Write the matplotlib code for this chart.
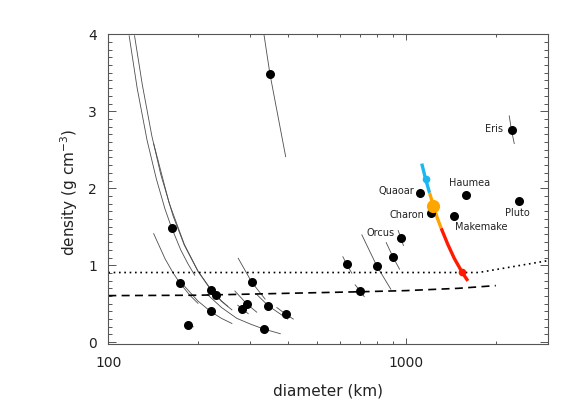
import matplotlib
matplotlib.use("Agg")
import matplotlib.pyplot as plt
from matplotlib.ticker import LogLocator, MultipleLocator, NullFormatter, FuncFormatter

# --- objects (diameter km, density g/cm3) ---
obj_diam = [163, 174, 185, 221, 230, 221, 282, 292, 303, 332, 344, 394, 349,
            632, 701, 797, 902, 960, 1114, 1213, 1446, 1587, 2383, 2258]
obj_rho = [1.48, 0.77, 0.225, 0.68, 0.615, 0.40, 0.43, 0.495, 0.78, 0.175, 0.475, 0.365, 3.48,
           1.01, 0.665, 0.99, 1.11, 1.355, 1.935, 1.675, 1.635, 1.91, 1.83, 2.75]

# named objects
names = ["Orcus", "Quaoar", "Charon", "Makemake", "Haumea", "Pluto", "Eris"]
name_idx = [17, 18, 19, 20, 21, 22, 23]

# constant-mass tracks (diameter, density)
tracks = [
    ([117.5, 125, 135, 145, 155, 163, 175, 185, 195],
     [3.98, 3.30, 2.62, 2.12, 1.73, 1.49, 1.20, 1.02, 0.87]),
    ([122.5, 130, 140, 150, 165, 180, 200, 221, 240, 260],
     [3.98, 3.35, 2.68, 2.18, 1.64, 1.26, 0.92, 0.68, 0.53, 0.42]),
    ([142, 160, 180, 200, 221, 240, 252],
     [2.58, 1.81, 1.27, 0.925, 0.685, 0.535, 0.465]),
    ([142, 155, 165, 174, 188, 200],
     [1.41, 1.085, 0.90, 0.767, 0.608, 0.505]),
    ([180, 200, 221, 240, 260],
     [0.73, 0.534, 0.396, 0.309, 0.243]),
    ([215, 240, 270, 300, 332, 355, 378],
     [0.62, 0.45, 0.31, 0.235, 0.172, 0.14, 0.11]),
    ([183, 193], [0.235, 0.20]),
    ([272, 282, 295], [0.48, 0.43, 0.37]),
    ([266, 292, 315], [0.665, 0.495, 0.39]),
    ([273, 303, 336], [1.09, 0.78, 0.56]),
    ([315, 344, 400], [0.62, 0.475, 0.30]),
    ([368, 394, 418], [0.45, 0.365, 0.30]),
    ([333, 349, 394], [4.0, 3.48, 2.41]),
    ([613, 632, 657], [1.11, 1.01, 0.896]),
    ([674, 701, 723], [0.745, 0.665, 0.592]),
    ([710, 797, 888], [1.394, 0.99, 0.688]),
    ([857, 902, 950], [1.294, 1.11, 0.948]),
    ([940, 960, 979], [1.45, 1.355, 1.255]),
    ([2218, 2258, 2306], [2.94, 2.75, 2.58]),
]

# coloured track
cyan_d = [1128, 1162, 1198]
cyan_r = [2.32, 2.12, 1.94]
orange_d = [1198, 1235, 1273, 1311]
orange_r = [1.94, 1.77, 1.61, 1.48]
red_d = [1311, 1380, 1450, 1542, 1611]
red_r = [1.48, 1.27, 1.09, 0.907, 0.796]

# reference density curves
dot_d = [100, 1000, 1750, 3000]
dot_r = [0.905, 0.905, 0.905, 1.06]
dash_d = [100, 200, 400, 700, 1000, 1500, 2000]
dash_r = [0.605, 0.61, 0.635, 0.655, 0.67, 0.70, 0.735]

fig = plt.figure(figsize=(5.81, 4.15), dpi=100)
ax = fig.add_axes([0.1864, 0.1699, 0.7573, 0.7475])
ax.set_xscale("log")

for d, r in tracks:
    ax.plot(d, r, color="0.3", lw=0.6, zorder=2)

ax.plot(dot_d, dot_r, color="black", lw=1.2, linestyle=(0, (1, 2.2)), zorder=2)
ax.plot(dash_d, dash_r, color="black", lw=1.2, linestyle=(0, (4.8, 3.2)), zorder=2)

ax.plot(obj_diam, obj_rho, "o", color="black", ms=6.5, mec="none", zorder=4)

ax.plot(cyan_d, cyan_r, color="#1ab8f0", lw=2.4, solid_capstyle="butt", zorder=3)
ax.plot(orange_d, orange_r, color="#ffa500", lw=2.4, solid_capstyle="butt", zorder=3)
ax.plot(red_d, red_r, color="#ff1a00", lw=2.4, solid_capstyle="butt", zorder=3)
ax.plot(cyan_d[1], cyan_r[1], "o", color="#1ab8f0", ms=5.5, mec="none", zorder=5)
ax.plot(orange_d[1], orange_r[1], "o", color="#ffa500", ms=9.5, mec="none", zorder=5)
ax.plot(red_d[3], red_r[3], "o", color="#ff1a00", ms=5.5, mec="none", zorder=5)

offsets = {
    "Orcus": (-4.8, 3.4, "right"),
    "Quaoar": (-4.3, 1.7, "right"),
    "Charon": (-5.2, -1.0, "right"),
    "Makemake": (0.5, -7.5, "left"),
    "Haumea": (2.6, 8.6, "center"),
    "Pluto": (-1.0, -8.6, "center"),
    "Eris": (-5.8, 1.2, "right"),
}
for name, i in zip(names, name_idx):
    dx, dy, ha = offsets[name]
    ax.annotate(name, (obj_diam[i], obj_rho[i]), xytext=(dx, dy),
                textcoords="offset points", ha=ha, va="center",
                fontsize=7, color="#222222")

ax.set_xlim(100, 3000)
ax.set_ylim(-0.03, 4.0)

ax.xaxis.set_major_locator(LogLocator(base=10, numticks=5))
ax.xaxis.set_minor_locator(LogLocator(base=10, subs=range(2, 10), numticks=20))
ax.xaxis.set_major_formatter(FuncFormatter(lambda v, p: f"{v:.0f}"))
ax.xaxis.set_minor_formatter(NullFormatter())
ax.yaxis.set_major_locator(MultipleLocator(1))
ax.yaxis.set_minor_locator(MultipleLocator(0.1))

ax.tick_params(which="both", direction="in", top=True, right=True,
               color="#555555", width=0.7, labelsize=10, labelcolor="#222222")
ax.tick_params(axis="x", which="major", length=4.5, pad=8)
ax.tick_params(axis="x", which="minor", length=2.5)
ax.tick_params(axis="y", which="major", length=6, pad=8)
ax.tick_params(axis="y", which="minor", length=3)
for s in ax.spines.values():
    s.set_color("#555555")
    s.set_linewidth(0.8)

ax.set_xlabel("diameter (km)", fontsize=11, color="#222222")
ax.set_ylabel("density (g cm$^{-3}$)", fontsize=11, color="#222222")
ax.xaxis.set_label_coords(0.5, -0.125)
ax.yaxis.set_label_coords(-0.065, 0.49)

fig.savefig("out.png", dpi=100)
